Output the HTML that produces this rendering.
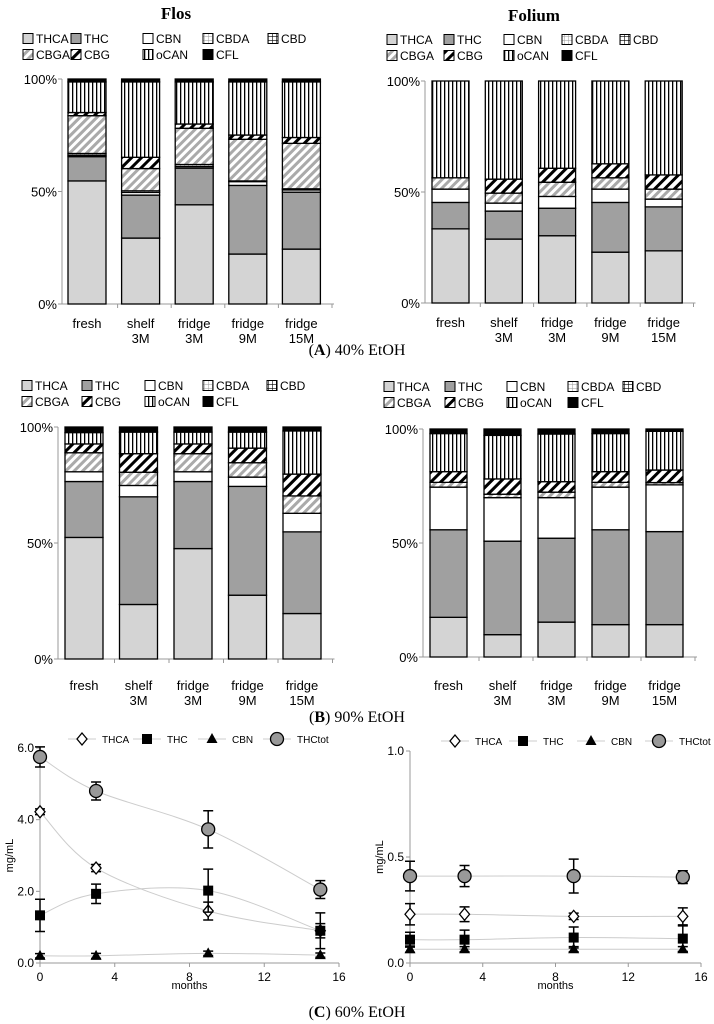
<!DOCTYPE html>
<html><head><meta charset="utf-8">
<style>
html,body{margin:0;padding:0;background:#fff;}
svg{display:block;font-family:"Liberation Sans",Arial,sans-serif;}
.ser{font-family:"Liberation Serif",serif;}
</style></head>
<body>
<svg id="fig" width="714" height="1024" viewBox="0 0 714 1024" xmlns="http://www.w3.org/2000/svg">
<defs>
<pattern id="p-cbda" width="4" height="4" patternUnits="userSpaceOnUse"><rect width="4" height="4" fill="#fff"/><path d="M0 0H4M0 0V4" stroke="#999" stroke-width="1"/></pattern>
<pattern id="p-cbd" width="4" height="4" patternUnits="userSpaceOnUse"><rect width="4" height="4" fill="#fff"/><path d="M0 0H4M0 0V4" stroke="#000" stroke-width="1.2"/></pattern>
<pattern id="p-cbga" width="6" height="6" patternUnits="userSpaceOnUse" patternTransform="rotate(45)"><rect width="6" height="6" fill="#fff"/><rect width="3" height="6" fill="#aaa"/></pattern>
<pattern id="p-cbg" width="7" height="7" patternUnits="userSpaceOnUse" patternTransform="rotate(45)"><rect width="7" height="7" fill="#fff"/><rect width="3" height="7" fill="#000"/></pattern>
<pattern id="p-ocan" width="4" height="4" patternUnits="userSpaceOnUse"><rect width="4" height="4" fill="#fff"/><rect width="1.3" height="4" fill="#000"/></pattern>
</defs>
<text class="ser" x="176" y="19" font-size="17" font-weight="bold" text-anchor="middle">Flos</text>
<text class="ser" x="534" y="21" font-size="17" font-weight="bold" text-anchor="middle">Folium</text>
<text class="ser" x="357" y="355" font-size="16" text-anchor="middle">(<tspan font-weight="bold">A</tspan>) 40% EtOH</text>
<text class="ser" x="357" y="722" font-size="16" text-anchor="middle">(<tspan font-weight="bold">B</tspan>) 90% EtOH</text>
<text class="ser" x="357" y="1017" font-size="16" text-anchor="middle">(<tspan font-weight="bold">C</tspan>) 60% EtOH</text>
</svg>
<script>
const NS="http://www.w3.org/2000/svg";
const svg=document.getElementById('fig');
const categories=["fresh","shelf|3M","fridge|3M","fridge|9M","fridge|15M"];
const components=["THCA","THC","CBN","CBDA","CBD","CBGA","CBG","oCAN","CFL"];
// Panel A Flos
const aFlosTHCA=[54.7,29.3,44.1,22.2,24.4];
const aFlosTHC=[10.8,19.1,16.3,30.5,25.3];
const aFlosCBN=[0.6,1.2,0.7,1.7,1.0];
const aFlosCBDA=[0.8,0.7,0.9,0.3,0.5];
const aFlosCBD=[0,0,0,0,0];
const aFlosCBGA=[16.8,9.9,16.1,18.5,20.2];
const aFlosCBG=[1.4,5.0,1.9,1.9,2.6];
const aFlosOCAN=[13.6,33.5,18.7,23.6,24.7];
// Panel A Folium
const aFolTHCA=[33.4,28.8,30.3,22.9,23.5];
const aFolTHC=[11.9,12.6,12.4,22.4,19.8];
const aFolCBN=[6.0,3.6,5.3,6.0,3.5];
const aFolCBDA=[0,0,0,0,0];
const aFolCBD=[0,0,0,0,0];
const aFolCBGA=[5.1,4.5,6.4,5.1,4.5];
const aFolCBG=[0,6.3,6.3,6.3,6.4];
const aFolOCAN=[43.6,44.2,39.3,37.3,42.3];
// Panel B Flos
const bFlosTHCA=[52.4,23.5,47.6,27.5,19.6];
const bFlosTHC=[24.1,46.4,28.9,46.9,35.2];
const bFlosCBN=[4.2,4.9,4.2,4.0,8.0];
const bFlosCBDA=[0,0,0,0,0];
const bFlosCBD=[0,0,0,0,0];
const bFlosCBGA=[8.2,5.7,7.8,6.2,7.5];
const bFlosCBG=[3.8,8.0,4.2,6.3,9.4];
const bFlosOCAN=[4.9,9.3,5.1,6.9,18.6];
// Panel B Folium
const bFolTHCA=[17.4,9.8,15.3,14.2,14.2];
const bFolTHC=[38.4,41.0,36.8,41.6,40.8];
const bFolCBN=[18.7,19.1,17.8,18.7,20.5];
const bFolCBDA=[0,0,0,0,0];
const bFolCBD=[0,0,0,0,0];
const bFolCBGA=[2.1,1.5,2.4,2.1,1.0];
const bFolCBG=[4.7,6.7,4.6,4.7,5.5];
const bFolOCAN=[16.7,19.1,20.9,16.7,17.0];
const pctTicks=["0%","50%","100%"];
// Panel C line charts
const months=[0,3,9,15];
const cFlosTHCtot=[5.75,4.8,3.73,2.05];
const cFlosTHCtotErr=[0.28,0.25,0.52,0.25];
const cFlosTHCA=[4.22,2.65,1.45,0.9];
const cFlosTHCAErr=[0.08,0.1,0.25,0.2];
const cFlosTHC=[1.33,1.93,2.02,0.9];
const cFlosTHCErr=[0.45,0.27,0.6,0.5];
const cFlosCBN=[0.2,0.2,0.27,0.22];
const cFlosCBNErr=[0.06,0.07,0.06,0.06];
const cFolTHCtot=[0.41,0.41,0.41,0.405];
const cFolTHCtotErr=[0.07,0.05,0.08,0.03];
const cFolTHCA=[0.23,0.23,0.22,0.22];
const cFolTHCAErr=[0.05,0.035,0.015,0.04];
const cFolTHC=[0.11,0.11,0.12,0.115];
const cFolTHCErr=[0.035,0.045,0.05,0.06];
const cFolCBN=[0.065,0.065,0.065,0.065];
const cFolCBNErr=[0.015,0.012,0.012,0.012];
const monthTicks=[0,4,8,12,16];
const cFlosYTicks=["0.0","2.0","4.0","6.0"];
const cFolYTicks=["0.0","0.5","1.0"];
const lineSeries=["THCA","THC","CBN","THCtot"];

const fills={THCA:"#d4d4d4",THC:"#a0a0a0",CBN:"#fff",CBDA:"url(#p-cbda)",CBD:"url(#p-cbd)",CBGA:"url(#p-cbga)",CBG:"url(#p-cbg)",oCAN:"url(#p-ocan)",CFL:"#000"};

function el(tag,attrs,parent){const e=document.createElementNS(NS,tag);for(const k in attrs)e.setAttribute(k,attrs[k]);(parent||svg).appendChild(e);return e;}
function txt(x,y,s,size,anchor,parent){const t=el('text',{x:x,y:y,'font-size':size,'text-anchor':anchor||'start'},parent);t.textContent=s;return t;}

function legend(g,x0,xs,y1,y2){
  const rows=[["THCA","THC","CBN","CBDA","CBD"],["CBGA","CBG","oCAN","CFL"]];
  rows.forEach((row,ri)=>{row.forEach((name,i)=>{
    const y=ri?y2:y1;
    const item=el('g',{},g);
    
    
    el('rect',{x:x0+xs[i],y:y-9.5,width:10,height:10,fill:fills[name],stroke:'#000','stroke-width':1},item);
    txt(x0+xs[i]+13,y,name,12,'start',item);
  });});
}

function barChart(name,data,o){
  const g=el('g',{});
  
  
  const yS=v=>o.y0-(o.y0-o.y100)*v/100;
  el('line',{x1:o.ax,y1:o.y100,x2:o.ax,y2:o.y0,stroke:'#999'},g);
  el('line',{x1:o.ax,y1:o.y0,x2:o.ax+5*o.step+4,y2:o.y0,stroke:'#999'},g);
  [0,50,100].forEach((v,i)=>{el('line',{x1:o.ax-4,y1:yS(v),x2:o.ax,y2:yS(v),stroke:'#999'},g);
    const t=txt(o.ax-5,yS(v)+5,pctTicks[i],13,'end',g);
    });
  for(let i=1;i<=5;i++){el('line',{x1:o.ax+i*o.step+2,y1:o.y0,x2:o.ax+i*o.step+2,y2:o.y0+4,stroke:'#999'},g);}
  categories.forEach((c,i)=>{
    const bx=o.bx+i*o.step;let acc=0;
    const parts=components.map(k=>k==="CFL"?Math.max(0,100-components.slice(0,8).reduce((s,kk)=>s+data[kk][i],0)):data[k][i]);
    parts.forEach((v,j)=>{ if(v<=0){return;}
      const r=el('rect',{x:bx,y:yS(acc+v),width:o.bw,height:yS(acc)-yS(acc+v),fill:fills[components[j]],stroke:'#000','stroke-width':1.3},g);
      
      
      acc+=v;});
    if(o.labels){const ls=c.split('|');ls.forEach((l,k)=>{const t=txt(bx+o.bw/2,o.ly+k*15,l,13,'middle',g);
      });}
  });
  legend(g,o.lx,o.lxs,o.ly1,o.ly2);
}
function D(p){return {THCA:p[0],THC:p[1],CBN:p[2],CBDA:p[3],CBD:p[4],CBGA:p[5],CBG:p[6],oCAN:p[7]};}
barChart('chart-a-flos',D([aFlosTHCA,aFlosTHC,aFlosCBN,aFlosCBDA,aFlosCBD,aFlosCBGA,aFlosCBG,aFlosOCAN]),
 {ax:62,y0:304,y100:79,bx:68,bw:38,step:53.6,labels:true,ly:328,lx:23,lxs:[0,48,120,180,245],ly1:43,ly2:59});
barChart('chart-a-folium',D([aFolTHCA,aFolTHC,aFolCBN,aFolCBDA,aFolCBD,aFolCBGA,aFolCBG,aFolOCAN]),
 {ax:425,y0:303,y100:81,bx:432,bw:37,step:53.3,labels:true,ly:327,lx:387,lxs:[0,57,117,175,233],ly1:44,ly2:60});
barChart('chart-b-flos',D([bFlosTHCA,bFlosTHC,bFlosCBN,bFlosCBDA,bFlosCBD,bFlosCBGA,bFlosCBG,bFlosOCAN]),
 {ax:58,y0:659,y100:427,bx:65,bw:38,step:54.5,labels:true,ly:690,lx:22,lxs:[0,60,123,181,245],ly1:390,ly2:406});
barChart('chart-b-folium',D([bFolTHCA,bFolTHC,bFolCBN,bFolCBDA,bFolCBD,bFolCBGA,bFolCBG,bFolOCAN]),
 {ax:423,y0:657,y100:429,bx:430,bw:37,step:54,labels:true,ly:690,lx:384,lxs:[0,61,123,184,239],ly1:391,ly2:407});

function marker(g,name,x,y){
  if(name==="THCA"){el('path',{d:`M${x} ${y-6}L${x+5} ${y}L${x} ${y+6}L${x-5} ${y}Z`,fill:'#fff',stroke:'#000','stroke-width':1.3},g);}
  else if(name==="THC"){el('rect',{x:x-5,y:y-5,width:10,height:10,fill:'#000'},g);}
  else if(name==="CBN"){el('path',{d:`M${x} ${y-6}L${x+5.5} ${y+4}L${x-5.5} ${y+4}Z`,fill:'#000'},g);}
  else {el('circle',{cx:x,cy:y,r:6.5,fill:'#999',stroke:'#000','stroke-width':1.3},g);}
}
function lineChart(name,series,o){
  const g=el('g',{});
  
  
  const xS=v=>o.x0+(o.x16-o.x0)*v/16, yS=v=>o.y0-(o.y0-o.yTop)*v/o.ymax;
  el('line',{x1:o.x0,y1:o.yTop,x2:o.x0,y2:o.y0,stroke:'#999'},g);
  el('line',{x1:o.x0,y1:o.y0,x2:o.x16,y2:o.y0,stroke:'#999'},g);
  o.yt.forEach(s=>{const v=parseFloat(s);el('line',{x1:o.x0-4,y1:yS(v),x2:o.x0,y2:yS(v),stroke:'#999'},g);
    const t=txt(o.x0-6,yS(v)+4,s,12,'end',g);});
  monthTicks.forEach(v=>{el('line',{x1:xS(v),y1:o.y0,x2:xS(v),y2:o.y0+4,stroke:'#999'},g);
    const t=txt(xS(v),o.y0+18,String(v),12,'middle',g);});
  const xt=txt((o.x0+o.x16)/2,o.y0+26,'months',11,'middle',g);
  
  const yt=txt(0,0,'mg/mL',11,'middle',g);
  yt.setAttribute('transform',`translate(${o.x0-27},${(o.y0+o.yTop)/2}) rotate(-90)`);
  
  lineSeries.forEach((n,i)=>{const lg=el('g',{},g);
    
    const lx=o.lx+i*o.lstep;
    el('line',{x1:lx-14,y1:o.ly,x2:lx+14,y2:o.ly,stroke:'#ccc'},lg);
    marker(lg,n,lx,o.ly);txt(lx+20,o.ly+4,n,10,'start',lg);});
  lineSeries.forEach(n=>{
    const vals=series[n][0],errs=series[n][1];
    const pts=months.map((m,i)=>[xS(m),yS(vals[i])]);
    let d=`M${pts[0][0]} ${pts[0][1]}`;
    for(let i=1;i<pts.length;i++){const p0=pts[Math.max(0,i-2)],p1=pts[i-1],p2=pts[i],p3=pts[Math.min(pts.length-1,i+1)];
      d+=` C${p1[0]+(p2[0]-p0[0])/6} ${p1[1]+(p2[1]-p0[1])/6} ${p2[0]-(p3[0]-p1[0])/6} ${p2[1]-(p3[1]-p1[1])/6} ${p2[0]} ${p2[1]}`;}
    const ln=el('path',{d:d,fill:'none',stroke:'#ccc','stroke-width':1},g);
    
    months.forEach((m,i)=>{const x=xS(m),y=yS(vals[i]),e1=yS(vals[i]+errs[i]),e2=yS(vals[i]-errs[i]);
      const pg=el('g',{},g);
      
      el('path',{d:`M${x} ${e1}V${e2}M${x-5} ${e1}H${x+5}M${x-5} ${e2}H${x+5}`,stroke:'#000','stroke-width':1.5},pg);
      marker(pg,n,x,y);});
  });
}
lineChart('chart-c-flos',{THCA:[cFlosTHCA,cFlosTHCAErr],THC:[cFlosTHC,cFlosTHCErr],CBN:[cFlosCBN,cFlosCBNErr],THCtot:[cFlosTHCtot,cFlosTHCtotErr]},
 {x0:40,x16:339,y0:963,yTop:748,ymax:6,yt:cFlosYTicks,lx:82,lstep:65,ly:739});
lineChart('chart-c-folium',{THCA:[cFolTHCA,cFolTHCAErr],THC:[cFolTHC,cFolTHCErr],CBN:[cFolCBN,cFolCBNErr],THCtot:[cFolTHCtot,cFolTHCtotErr]},
 {x0:410,x16:701,y0:963,yTop:751,ymax:1,yt:cFolYTicks,lx:455,lstep:68,ly:741});
</script>
</body></html>
